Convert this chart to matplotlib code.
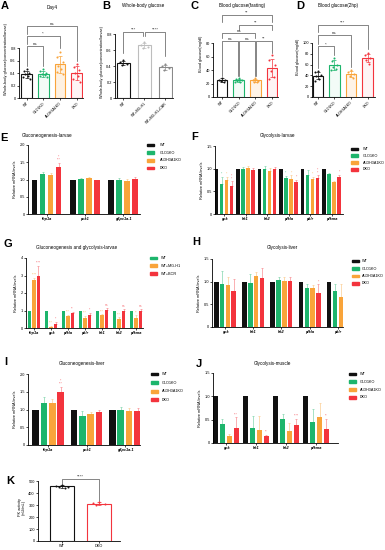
"""Multi-panel glucose / mRNA figure (panels A-K)."""

import matplotlib
matplotlib.use("Agg")
import matplotlib.pyplot as plt
from matplotlib.colors import to_rgba
from matplotlib.patches import Rectangle
import numpy as np

plt.rcParams["font.family"] = ["Liberation Sans", "DejaVu Sans"]

W, H = 385, 550

BLACK = "#111111"
GREEN = "#1db56c"
ORANGE = "#f9a43a"
RED = "#f3343d"
LIGHT_GRAY = "#bdbdbd"
MID_GRAY = "#8a8a8a"

KO_GROUPS = ["WT", "GLO1KO", "ALDH3A1KO", "DKO"]
KO_COLORS = [BLACK, GREEN, ORANGE, RED]

# A: Day4 whole-body glucose
day4_points = [
    [0.46, 0.44, 0.40, 0.38, 0.36, 0.33, 0.31],
    [0.47, 0.43, 0.40, 0.38, 0.37, 0.35, 0.33],
    [0.74, 0.66, 0.58, 0.52, 0.47, 0.42, 0.38],
    [0.55, 0.50, 0.45, 0.40, 0.35, 0.30, 0.25],
]
# B: whole-body glucose with MG-H1 / carnosine
mg_groups = ["WT", "WT+MG-H1", "WT+MG-H1+CAR"]
mg_points = [
    [0.47, 0.45, 0.43, 0.41],
    [0.70, 0.66, 0.64, 0.63],
    [0.42, 0.40, 0.37, 0.35],
]
# C: fasting blood glucose
fasting_points = [
    [29, 26, 25, 24, 22],
    [28, 27, 25, 24, 23, 22],
    [28, 26, 24, 23, 22],
    [62, 55, 47, 38, 30, 27],
]
# D: 2h postprandial blood glucose
post_points = [
    [48, 46, 41, 38, 34, 30],
    [72, 66, 60, 55, 52, 50],
    [50, 46, 42, 39, 36],
    [82, 78, 72, 68, 62],
]

# E: gluconeogenesis larvae
e_genes = ["fbp1a", "pck1", "g6pc1a.1"]
e_vals = [[1.0, 1.0, 1.0], [1.16, 1.01, 1.0], [1.14, 1.03, 0.97], [1.37, 0.98, 1.02]]
e_errs = [[0, 0, 0], [0.06, 0.04, 0.03], [0.05, 0.03, 0.04], [0.12, 0.02, 0.04]]
e_notes = [["", "", ""], ["", "", ""], ["", "", ""], ["*\n***", "", ""]]

# F: glycolysis larvae
f_genes = ["gck", "hk1", "hk2", "pfkla", "pklr", "pfkma"]
f_vals = [
    [1.0, 1.0, 1.0, 1.0, 1.0, 1.0],
    [0.67, 1.0, 1.0, 0.80, 0.86, 0.89],
    [0.76, 1.02, 0.95, 0.77, 0.77, 0.71],
    [0.62, 0.98, 1.0, 0.71, 0.80, 0.82],
]
f_errs = [
    [0, 0, 0, 0, 0, 0],
    [0.15, 0.04, 0.05, 0.04, 0.10, 0.02],
    [0.06, 0.04, 0.06, 0.08, 0.05, 0.02],
    [0.10, 0.03, 0.03, 0.05, 0.05, 0.04],
]
f_notes = [
    ["", "", "", "", "", ""],
    ["*", "", "", "*", "", ""],
    ["*", "", "", "*", "*", ""],
    ["*\n*", "", "", "*", "*\n*", "*"],
]

# G: gluconeogenesis and glycolysis larvae
g_genes = ["fbp1a", "gck", "pfkla", "pklr", "hk1", "hk2", "pfkma"]
g_series = ["WT", "WT+MG-H1", "WT+BOR"]
g_colors = [GREEN, ORANGE, RED]
g_vals = [
    [1.0, 1.0, 1.0, 1.0, 1.0, 1.0, 1.0],
    [2.75, 0.08, 0.70, 0.58, 0.73, 0.53, 0.57],
    [3.0, 0.25, 0.87, 0.75, 1.05, 1.0, 0.98],
]
g_errs = [
    [0, 0, 0, 0, 0, 0, 0],
    [0.10, 0.03, 0.03, 0.10, 0.05, 0.08, 0.15],
    [0.55, 0.10, 0.05, 0.10, 0.10, 0.08, 0.12],
]
g_notes = [
    ["", "", "", "", "", "", ""],
    ["****", "***", "***", "***", "***", "***", "**"],
    ["****", "*", "**", "*", "ns", "ns", "ns"],
]

# H: glycolysis liver
h_genes = ["gck", "hk1", "hk2", "pfkla", "pklr"]
h_vals = [
    [1.0, 1.0, 1.0, 1.0, 1.0],
    [0.94, 0.97, 1.03, 0.86, 0.80],
    [0.93, 1.12, 1.02, 0.87, 0.66],
    [0.79, 1.07, 1.01, 0.74, 0.71],
]
h_errs = [
    [0, 0, 0, 0, 0],
    [0.30, 0.20, 0.07, 0.08, 0.14],
    [0.18, 0.10, 0.08, 0.05, 0.28],
    [0.27, 0.23, 0.09, 0.20, 0.25],
]
h_notes = [["", "", "", "", ""], ["", "", "", "", ""], ["", "", "", "", ""], ["", "", "", "*", ""]]

# I: gluconeogenesis liver
i_genes = ["fbp1a", "pck1", "g6pc1a.1"]
i_vals = [[1.0, 1.0, 1.0], [1.19, 0.82, 0.98], [1.17, 0.87, 0.97], [1.48, 0.92, 0.96]]
i_errs = [[0, 0, 0], [0.15, 0.13, 0.08], [0.12, 0.05, 0.06], [0.15, 0.06, 0.07]]
i_notes = [["", "", ""], ["", "", ""], ["", "", ""], ["*\n***", "", ""]]

# J: glycolysis muscle
j_genes = ["gck", "hk1", "hk2", "pfkma"]
j_vals = [
    [1.0, 1.0, 1.0, 1.0],
    [0.41, 0.33, 0.51, 0.46],
    [0.16, 0.28, 0.25, 0.56],
    [0.33, 0.14, 0.38, 0.31],
]
j_errs = [
    [0, 0, 0, 0],
    [0.10, 0.24, 0.12, 0.27],
    [0.03, 0.30, 0.17, 0.30],
    [0.22, 0.04, 0.14, 0.20],
]
j_notes = [["", "", "", ""], ["", "", "", ""], ["", "", "", ""], ["***", "**", "****", "**"]]

# K: PK activity
pk_groups = ["WT", "DKO"]
pk_points = [[468, 462, 455, 450, 445], [322, 318, 312, 300]]

JITTER = [0.0, -0.17, 0.17, -0.09, 0.09, -0.2, 0.2]


def px_axes(fig, x0, y0, x1, y1):
    return fig.add_axes([x0 / W, 1 - y1 / H, (x1 - x0) / W, (y1 - y0) / H])


def lighten(color, amount=0.5):
    r, g, b, _ = to_rgba(color)
    return (r + (1 - r) * amount, g + (1 - g) * amount, b + (1 - b) * amount)


def base_style(ax, yticks, ylabels, ylabel, ytop, xlim):
    for side in ("top", "right"):
        ax.spines[side].set_visible(False)
    for side in ("left", "bottom"):
        ax.spines[side].set_linewidth(0.6)
    ax.spines["left"].set_bounds(0, yticks[-1])
    ax.set_ylim(0, ytop)
    ax.set_xlim(*xlim)
    ax.set_yticks(yticks)
    ax.set_yticklabels(ylabels)
    ax.tick_params(axis="both", labelsize=2.8, length=1.5, width=0.5, pad=0.8)
    ax.set_ylabel(ylabel, fontsize=2.8, labelpad=1.5)
    ax.patch.set_alpha(0)


def dot_panel(ax, points, colors, fills):
    for i, (vals, c, fa) in enumerate(zip(points, colors, fills)):
        vals = np.asarray(vals, dtype=float)
        mean, sd = vals.mean(), vals.std(ddof=1)
        ax.bar(i, mean, width=0.64, facecolor=to_rgba(c, fa), edgecolor=c, linewidth=0.8, zorder=1)
        ax.errorbar(i, mean, yerr=sd, fmt="none", ecolor=c, elinewidth=0.5, capsize=1.3, capthick=0.5, zorder=2)
        offs = [JITTER[k % len(JITTER)] for k in range(len(vals))]
        ax.scatter(i + np.array(offs), vals, s=2.2, color=c, linewidths=0, zorder=3)


def bracket(ax, x1, x2, y, text, low1, low2):
    ax.plot([x1, x1, x2, x2], [low1, y, y, low2], color="#555555", lw=0.5, clip_on=False)
    ax.text((x1 + x2) / 2, y, text, ha="center", va="bottom", fontsize=3.2, color="#333333")


def group_panel(ax, genes, vals, errs, notes, colors, width, step, ytop):
    x = np.arange(len(genes))
    n = len(vals)
    for k in range(n):
        pos = x + (k - (n - 1) / 2) * step
        v = np.asarray(vals[k])
        e = np.asarray(errs[k])
        ax.bar(pos, v, width, color=colors[k], linewidth=0, zorder=2)
        if e.any():
            ax.errorbar(pos, v, yerr=[np.zeros_like(e), e], fmt="none", ecolor=lighten(colors[k], 0.45),
                        elinewidth=0.5, capsize=0.8, capthick=0.5, zorder=1)
        for j, note in enumerate(notes[k]):
            if note:
                ax.text(pos[j], v[j] + e[j] + 0.015 * ytop, note, ha="center", va="bottom",
                        fontsize=2.3, color=lighten(colors[k], 0.25), linespacing=0.7)
    ax.set_xticks(x)
    ax.set_xticklabels(genes, fontstyle="italic", fontweight="bold", fontsize=2.9)


def px_legend(fig, x, y, labels, colors, step, text_dx):
    for i, (lab, c) in enumerate(zip(labels, colors)):
        yy = y + i * step
        fig.patches.append(Rectangle((x / W, 1 - (yy + 1.4) / H), 7 / W, 2.8 / H,
                                     transform=fig.transFigure, color=c, figure=fig))
        fig.text((x + text_dx) / W, 1 - yy / H, lab, fontsize=2.7, va="center", ha="left")


def main():
    fig = plt.figure(figsize=(W / 100, H / 100), dpi=100)

    # ---- A
    ax = px_axes(fig, 19, 20, 83, 98)
    dot_panel(ax, day4_points, KO_COLORS, [0.0, 0.05, 0.15, 0.05])
    base_style(ax, [0, 0.2, 0.4, 0.6, 0.8], ["0", "0.2", "0.4", "0.6", "0.8"],
               "Whole-body glucose(concentration/larvae)", 1.25, (-0.45, 3.38))
    ax.set_xticks(range(4))
    ax.set_xticklabels(KO_GROUPS, rotation=45, ha="right", rotation_mode="anchor", fontsize=2.6)
    bracket(ax, 0, 1, 0.83, "ns", 0.52, 0.52)
    bracket(ax, 0, 2, 1.0, "*", 0.86, 0.80)
    bracket(ax, 0, 3, 1.15, "ns", 1.03, 0.60)

    # ---- B
    ax = px_axes(fig, 115, 26, 173, 98)
    dot_panel(ax, mg_points, [BLACK, LIGHT_GRAY, MID_GRAY], [0.0, 0.0, 0.0])
    base_style(ax, [0, 0.2, 0.4, 0.6, 0.8], ["0", "0.2", "0.4", "0.6", "0.8"],
               "Whole-body glucose(concentration/larvae)", 0.9, (-0.4, 2.36))
    ax.set_xticks(range(3))
    ax.set_xticklabels(mg_groups, rotation=45, ha="right", rotation_mode="anchor", fontsize=2.6)
    bracket(ax, 0, 0.95, 0.825, "***", 0.56, 0.77)
    bracket(ax, 1.05, 2, 0.825, "****", 0.77, 0.52)

    # ---- C
    ax = px_axes(fig, 213, 11, 278, 97)
    dot_panel(ax, fasting_points, KO_COLORS, [0.0, 0.05, 0.12, 0.05])
    base_style(ax, [0, 20, 40, 60, 80], ["0", "20", "40", "60", "80"],
               "Blood glucose(mg/dl)", 128, (-0.54, 3.35))
    ax.set_xticks(range(4))
    ax.set_xticklabels(KO_GROUPS, rotation=45, ha="right", rotation_mode="anchor", fontsize=2.6)
    bracket(ax, 0, 0.97, 84, "ns", 32, 32)
    bracket(ax, 1.03, 1.97, 84, "ns", 32, 32)
    bracket(ax, 2.03, 3, 84, "**", 32, 66)
    bracket(ax, 0, 2, 96, "ns", 88, 88)
    bracket(ax, 1, 3, 107, "**", 99, 99)
    bracket(ax, 0, 3, 122, "**", 112, 112)

    # ---- D
    ax = px_axes(fig, 312, 16, 375, 97)
    dot_panel(ax, post_points, KO_COLORS, [0.0, 0.05, 0.12, 0.05])
    base_style(ax, [0, 20, 40, 60, 80, 100], ["0", "20", "40", "60", "80", "100"],
               "Blood glucose(mg/dl)", 150, (-0.36, 3.45))
    ax.set_xticks(range(4))
    ax.set_xticklabels(KO_GROUPS, rotation=45, ha="right", rotation_mode="anchor", fontsize=2.6)
    bracket(ax, 0, 1, 94, "*", 54, 77)
    bracket(ax, 0, 2, 115, "ns", 98, 56)
    bracket(ax, 0, 3, 134, "***", 120, 88)

    # ---- E
    ax = px_axes(fig, 28, 145, 140, 214)
    group_panel(ax, e_genes, e_vals, e_errs, e_notes, KO_COLORS, 0.145, 0.21, 2.0)
    base_style(ax, [0, 0.5, 1.0, 1.5, 2.0], ["0", "0.5", "1.0", "1.5", "2.0"],
               "Relative mRNA levels", 2.0, (-0.49, 2.45))
    px_legend(fig, 147, 145, KO_GROUPS, KO_COLORS, 7.7, 13)

    # ---- F
    ax = px_axes(fig, 215, 146, 343, 214)
    group_panel(ax, f_genes, f_vals, f_errs, f_notes, KO_COLORS, 0.16, 0.233, 1.5)
    base_style(ax, [0, 0.5, 1.0, 1.5], ["0", "0.5", "1.0", "1.5"],
               "Relative mRNA levels", 1.5, (-0.42, 5.53))
    px_legend(fig, 351, 149, KO_GROUPS, KO_COLORS, 6.8, 12)

    # ---- G
    ax = px_axes(fig, 26, 258, 143, 328)
    group_panel(ax, g_genes, g_vals, g_errs, g_notes, g_colors, 0.2, 0.265, 4.0)
    base_style(ax, [0, 1, 2, 3, 4], ["0", "1", "2", "3", "4"],
               "Relative mRNA levels", 4.0, (-0.47, 6.41))
    px_legend(fig, 150, 258, g_series, g_colors, 7.8, 11)

    # ---- H
    ax = px_axes(fig, 212, 259, 343, 327)
    group_panel(ax, h_genes, h_vals, h_errs, h_notes, KO_COLORS, 0.16, 0.206, 1.5)
    base_style(ax, [0, 0.5, 1.0, 1.5], ["0", "0.5", "1.0", "1.5"],
               "Relative mRNA levels", 1.5, (-0.46, 4.18))
    px_legend(fig, 352, 261, KO_GROUPS, KO_COLORS, 7.5, 10)

    # ---- I
    ax = px_axes(fig, 28, 374, 140, 445)
    group_panel(ax, i_genes, i_vals, i_errs, i_notes, KO_COLORS, 0.17, 0.22, 2.0)
    base_style(ax, [0, 0.5, 1.0, 1.5, 2.0], ["0", "0.5", "1.0", "1.5", "2.0"],
               "Relative mRNA levels", 2.0, (-0.52, 2.39))
    px_legend(fig, 151, 374, KO_GROUPS, KO_COLORS, 8.6, 11)

    # ---- J
    ax = px_axes(fig, 213, 373, 338, 443)
    group_panel(ax, j_genes, j_vals, j_errs, j_notes, KO_COLORS, 0.18, 0.23, 1.5)
    base_style(ax, [0, 0.5, 1.0, 1.5], ["0", "0.5", "1.0", "1.5"],
               "Relative mRNA levels", 1.5, (-0.43, 3.73))
    px_legend(fig, 349, 374, KO_GROUPS, KO_COLORS, 7.8, 11)

    # ---- K
    ax = px_axes(fig, 38, 474, 120, 541)
    dot_panel(ax, pk_points, [BLACK, RED], [0.0, 0.0])
    base_style(ax, [0, 100, 200, 300, 400, 500], ["0", "100", "200", "300", "400", "500"],
               "PK activity\n(mU/mL)", 560, (-0.65, 1.57))
    ax.set_xticks(range(2))
    ax.set_xticklabels(pk_groups, fontsize=2.8)
    bracket(ax, 0, 1, 519, "****", 478, 335)

    # titles
    titles = [
        (52, 7, "Day4"), (143, 5, "Whole-body glucose"), (242, 5, "Blood glucose(fasting)"),
        (338, 5, "Blood glucose(2hp)"), (47, 135, "Gluconeogenesis-larvae"),
        (278, 135, "Glycolysis-larvae"), (77, 247, "Gluconeogenesis and glycolysis-larvae"),
        (282, 248, "Glycolysis-liver"), (82, 363, "Gluconeogenesis-liver"),
        (272, 363, "Glycolysis-muscle"),
    ]
    for x, y, t in titles:
        fig.text(x / W, 1 - y / H, t, fontsize=3.3, ha="center", va="center")

    letters = [
        (5, 6, "A"), (106, 6, "B"), (195, 6, "C"), (300, 6, "D"), (4, 138, "E"),
        (195, 137, "F"), (8, 244, "G"), (196, 242, "H"), (6, 362, "I"), (199, 364, "J"),
        (10, 481, "K"),
    ]
    for x, y, t in letters:
        fig.text(x / W, 1 - y / H, t, fontsize=8, fontweight="bold", ha="center", va="center")

    fig.savefig("out.png", dpi=100)
    plt.close(fig)


if __name__ == "__main__":
    main()
